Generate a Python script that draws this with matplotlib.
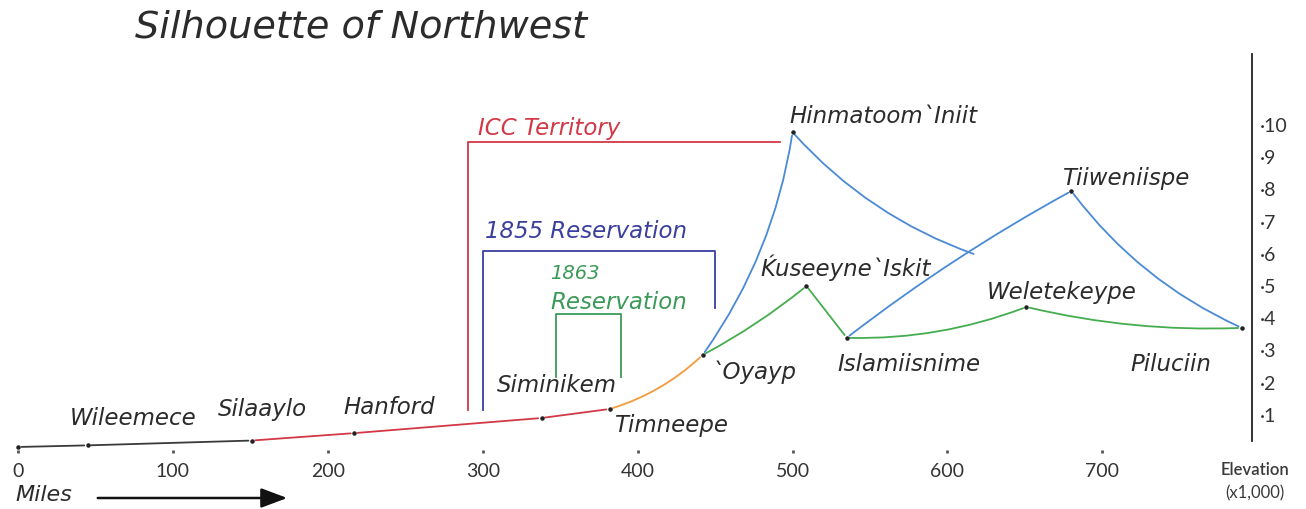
import matplotlib.pyplot as plt
from matplotlib.patches import FancyArrowPatch

# --- data: miles along the route, elevation in thousands of feet ---
pt_names = ["start", "w2", "Silaaylo", "Hanford", "s2", "Timneepe", "Oyayp",
            "Hinmatoom", "Kuseeyne", "Islamiisnime", "Weletekeype",
            "Tiiweniispe", "Piluciin", "h_end"]
pt_miles = [0, 45, 151, 217, 338, 382, 442, 500, 509, 535, 651, 680, 790, 619]
pt_elev = [0.0, 0.05, 0.2, 0.43, 0.9, 1.18, 2.86, 9.78, 5.0, 3.39, 4.35, 7.95, 3.7, 5.96]
dot_idx = list(range(13))  # every point but the loose end gets a dot

# segments (from, to) by colour
black_links = [(0, 1), (1, 2)]
red_links = [(2, 3), (3, 4), (4, 5)]
orange_links = [(5, 6)]
blue_links = [(6, 7), (7, 13), (9, 11), (11, 12)]
green_links = [(6, 8), (8, 9), (9, 10), (10, 12)]

# territory outlines
icc_miles = [290.5, 290.5, 492]
icc_elev = [1.15, 9.47, 9.47]
res1855_miles = [300, 300, 450, 450]
res1855_elev = [1.15, 6.09, 6.09, 4.32]
res1863_miles = [347, 347, 389, 389]
res1863_elev = [2.17, 4.13, 4.13, 2.17]

x_ticks = [0, 100, 200, 300, 400, 500, 600, 700]
y_ticks = [1, 2, 3, 4, 5, 6, 7, 8, 9, 10]

# colours
C_BLACK = "#3a3a3a"
C_RED = "#d23846"
C_ORANGE = "#f39a3c"
C_BLUE = "#4a8ad6"
C_GREEN = "#45ad4f"
C_NAVY = "#3a3f9e"
C_GREEN2 = "#3c9a58"

HAND = ["DejaVu Sans"]
PLAIN = ["Lato", "DejaVu Sans"]

W, H = 1306, 509
fig = plt.figure(figsize=(W / 100, H / 100), dpi=100)
L, R = 2.5, 1252
ax = fig.add_axes([L / W, 1 - 450.2 / H, (R - L) / W, (450.2 - 54.2) / H])
ax.set_xlim(-10, 796.6)
ax.set_ylim(-0.1, 12.2)


def link(i, j, color, rad=0.0):
    ax.annotate("", xy=(pt_miles[j], pt_elev[j]), xytext=(pt_miles[i], pt_elev[i]),
                arrowprops=dict(arrowstyle="-", color=color, lw=1.3,
                                shrinkA=2.5, shrinkB=2.5,
                                connectionstyle=f"arc3,rad={rad}"),
                annotation_clip=False)


for i, j in black_links:
    link(i, j, C_BLACK)
for i, j in red_links:
    link(i, j, C_RED)
for i, j in orange_links:
    link(i, j, C_ORANGE, 0.12)
blue_rad = {(6, 7): 0.12, (7, 13): 0.13, (9, 11): -0.04, (11, 12): 0.13}
for i, j in blue_links:
    link(i, j, C_BLUE, blue_rad[(i, j)])
green_rad = {(6, 8): 0.05, (8, 9): 0.0, (9, 10): 0.1, (10, 12): 0.07}
for i, j in green_links:
    link(i, j, C_GREEN, green_rad[(i, j)])

ax.scatter([pt_miles[k] for k in dot_idx], [pt_elev[k] for k in dot_idx],
           s=5, color="#222222", zorder=5, clip_on=False)

# boxes
ax.plot(icc_miles, icc_elev, color=C_RED, lw=1.3)
ax.plot(res1855_miles, res1855_elev, color=C_NAVY, lw=1.3)
ax.plot(res1863_miles, res1863_elev, color=C_GREEN2, lw=1.3)

# labels
lab = dict(family=HAND, style="oblique", weight="light", fontsize=16.5,
           color="#2b2b2b", va="center", ha="left")
ax.text(33.6, 0.9, "Wileemece", **lab)
ax.text(129, 1.15, "Silaaylo", **lab)
ax.text(210, 1.24, "Hanford", **lab)
ax.text(309, 1.9, "Siminikem", **lab)
ax.text(385, 0.68, "Timneepe", **lab)
ax.text(448, 2.33, "`Oyayp", **lab)
ax.text(498, 10.25, "Hinmatoom`Iniit", **lab)
ax.text(479, 5.56, "\u1e30useeyne`Iskit", **lab)
ax.text(529, 2.55, "Islamiisnime", **lab)
ax.text(625.5, 4.81, "Weletekeype", **lab)
ax.text(674, 8.35, "Tiiweniispe", **lab)
ax.text(718, 2.55, "Piluciin", **lab)

ax.text(297, 9.9, "ICC Territory", **{**lab, "color": C_RED})
ax.text(301.5, 6.68, "1855 Reservation", **{**lab, "color": C_NAVY})
ax.text(343.5, 5.4, "1863", **{**lab, "color": C_GREEN2, "fontsize": 14})
ax.text(343.5, 4.5, "Reservation", **{**lab, "color": C_GREEN2})

# axes styling
for s in ["top", "left", "bottom"]:
    ax.spines[s].set_visible(False)
ax.spines["right"].set_bounds(0.2, 12.2)
ax.spines["right"].set_color("#222222")
ax.spines["right"].set_linewidth(1.3)

ax.set_xticks(x_ticks)
ax.set_xticklabels([str(v) for v in x_ticks])
ax.tick_params(axis="x", direction="out", length=2, width=2, colors="#555555",
               labelsize=14, pad=7, labelcolor="#333333")
for t in ax.get_xticklabels():
    t.set_family(PLAIN)
ax.yaxis.tick_right()
ax.set_yticks(y_ticks)
ax.set_yticklabels(["\u00b7" + str(v) for v in y_ticks])
ax.tick_params(axis="y", length=0, labelsize=14, pad=6, labelcolor="#333333")
for t in ax.get_yticklabels():
    t.set_family(PLAIN)

# title, axis captions, arrow
fig.text(135 / W, 1 - 28 / H, "Silhouette of Northwest", family=HAND, style="oblique",
         weight="light", fontsize=27.5, color="#2b2b2b", va="center", ha="left")
fig.text(15 / W, 1 - 495 / H, "Miles", family=HAND, style="oblique", weight="light",
         fontsize=16, color="#2b2b2b", va="center", ha="left")
fig.text(1255 / W, 1 - 470 / H, "Elevation", family=PLAIN, weight="semibold",
         fontsize=12, color="#3a3a3a", va="center", ha="center")
fig.text(1255 / W, 1 - 493 / H, "(x1,000)", family=PLAIN,
         fontsize=12, color="#3a3a3a", va="center", ha="center")
fig.add_artist(FancyArrowPatch(
    (95 / W, 1 - 498 / H), (290 / W, 1 - 498 / H), transform=fig.transFigure,
    arrowstyle="-|>,head_length=16,head_width=6", color="#111111", lw=1.8,
    mutation_scale=1))

fig.savefig("out.png", dpi=100)
